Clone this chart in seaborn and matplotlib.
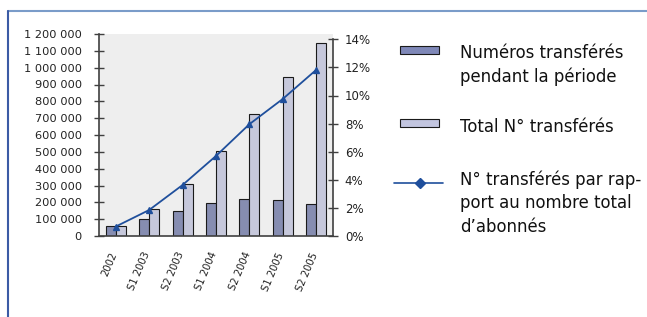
import numpy as np
import pandas as pd
import matplotlib
matplotlib.use("Agg")
import matplotlib.pyplot as plt
import matplotlib.transforms as mtransforms
from matplotlib.patches import Rectangle
from matplotlib.lines import Line2D
from matplotlib.ticker import FuncFormatter, FixedLocator
import seaborn as sns

# data
periods = ['2002', 'S1 2003', 'S2 2003', 'S1 2004', 'S2 2004', 'S1 2005', 'S2 2005']
per_period = [57000, 100000, 151000, 194000, 220000, 214000, 192000]
cumulative = [57000, 158000, 310000, 502000, 723000, 945000, 1147000]
pct_share = [0.0067, 0.0185, 0.0363, 0.057, 0.0796, 0.0976, 0.1183]

series_names = ['Numéros transférés\npendant la période',
                'Total N° transférés',
                'N° transférés par rap-\nport au nombre total\nd\u2019abonnés']

dark = '#7F88B8'
light = '#C2C5DF'
line_col = '#1F4F9C'
spine_col = '#404040'

sns.set_theme(style='white')
plt.rcParams['font.family'] = ['DejaVu Sans']

df = pd.DataFrame({
    'period': periods * 2,
    'value': per_period + cumulative,
    'serie': [series_names[0]] * len(periods) + [series_names[1]] * len(periods),
})

W, H = 647, 317
fig = plt.figure(figsize=(W / 100, H / 100), dpi=100)
ax = fig.add_axes([99 / W, 81 / H, 234 / W, 202 / H])

sns.barplot(data=df, x='period', y='value', hue='serie', palette=[dark, light],
            width=0.6, gap=0, edgecolor='#1a1a1a', linewidth=0.8, legend=False, ax=ax)
ax.set_facecolor('#EEEEEE')
ax.set_xlim(-0.5, len(periods) - 0.5)
ax.set_ylim(0, 1200000)
ax.set_yticks(np.arange(0, 1200001, 100000))
ax.yaxis.set_major_formatter(FuncFormatter(lambda v, p: f'{int(v):,}'.replace(',', ' ')))
ax.set_xlabel('')
ax.set_ylabel('')

# x: labels at centres, tick marks at category boundaries
ax.xaxis.set_minor_locator(FixedLocator(np.arange(-0.5, len(periods), 1.0)))
ax.tick_params(axis='x', which='major', length=0, pad=12, labelsize=7.2, labelcolor='#222222')
ax.tick_params(axis='x', which='minor', length=7, direction='inout', color=spine_col, width=1)
shift = mtransforms.ScaledTranslation(-1.5 / 100, 0, fig.dpi_scale_trans)
for lab in ax.get_xticklabels():
    lab.set_rotation(67)
    lab.set_ha('right')
    lab.set_va('center')
    lab.set_rotation_mode('anchor')
    lab.set_transform(lab.get_transform() + shift)
ax.tick_params(axis='y', length=7, direction='inout', color=spine_col, width=1,
               labelsize=8.2, labelcolor='#222222', pad=9)

ax2 = ax.twinx()
sns.pointplot(x=periods, y=pct_share, ax=ax2, color=line_col, markers='^',
              markersize=5, linewidth=1.3, errorbar=None)
ax2.set_xlim(-0.5, len(periods) - 0.5)
ax2.set_ylim(0, 0.14 * 202 / 196.7)
ax2.set_yticks(np.arange(0, 0.141, 0.02))
ax2.yaxis.set_major_formatter(FuncFormatter(lambda v, p: f'{v * 100:.0f}%'))
ax2.tick_params(axis='y', length=7, direction='inout', color=spine_col, width=1,
                labelsize=8.5, labelcolor='#222222', pad=5)
ax2.set_ylabel('')
ax2.set_xlabel('')

for a in (ax, ax2):
    a.spines['top'].set_visible(False)
    for s in ('left', 'right', 'bottom'):
        a.spines[s].set_color(spine_col)
        a.spines[s].set_linewidth(1.2)
ax.spines['right'].set_visible(False)
ax2.spines['left'].set_visible(False)
ax2.spines['bottom'].set_visible(False)
ax2.spines['right'].set_bounds(0, 0.14)


# legend drawn by hand so each key sits on the first line of its label
def fy(py):
    return 1 - py / H


fig.add_artist(Rectangle((400 / W, fy(54)), 39 / W, 8 / H, transform=fig.transFigure,
                         facecolor=dark, edgecolor='#1a1a1a', linewidth=0.8))
fig.add_artist(Rectangle((400 / W, fy(127.5)), 39 / W, 8 / H, transform=fig.transFigure,
                         facecolor=light, edgecolor='#1a1a1a', linewidth=0.8))
fig.add_artist(Line2D([394 / W, 443 / W], [fy(182.5)] * 2, color=line_col, linewidth=1.2))
fig.add_artist(Line2D([419.5 / W], [fy(182.5)], color=line_col, marker='D', markersize=5,
                      linestyle='none'))
# multi-line text: 'baseline' anchors the last line
for name, base in zip(series_names, [81.5, 131.5, 231.5]):
    fig.text(460 / W, fy(base), name, ha='left', va='baseline', fontsize=11.9,
             linespacing=1.36, color='#111111')

# blue frame lines of the original document
fig.add_artist(Line2D([7.5 / W, 1], [fy(10.5)] * 2, color='#7A9CC9', linewidth=1.5))
fig.add_artist(Line2D([7.5 / W] * 2, [0, fy(10.5)], color='#3B5BA5', linewidth=1.5))

fig.savefig('out.png', dpi=100)
